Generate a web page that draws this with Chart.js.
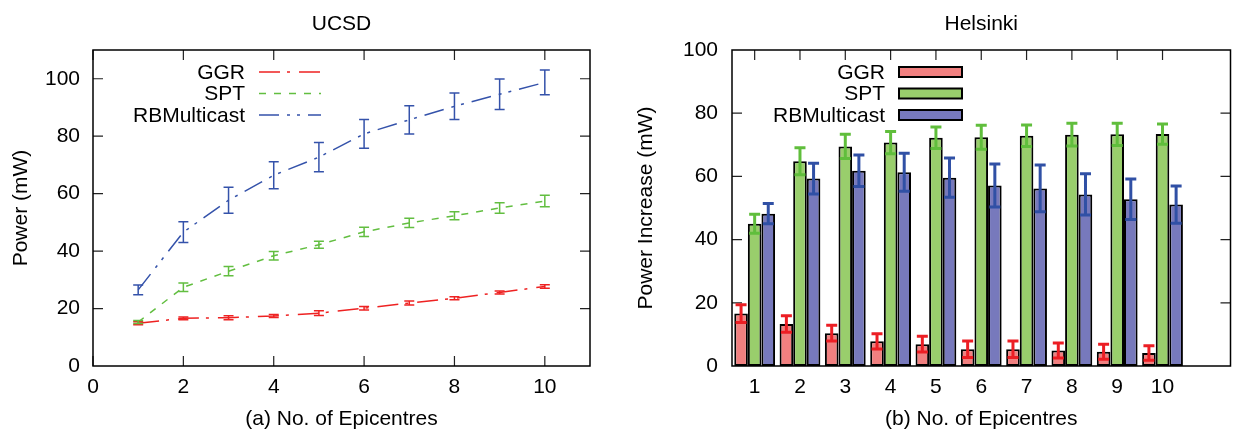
<!DOCTYPE html>
<html>
<head>
<meta charset="utf-8">
<script src="https://cdn.jsdelivr.net/npm/chart.js@4.4.1/dist/chart.umd.min.js"></script>
<style>
html, body { margin: 0; padding: 0; background: #fff; }
#wrap { position: relative; width: 1234px; height: 435px; }
.box { position: absolute; top: 0; width: 617px; height: 435px; }
</style>
</head>
<body>
<div id="wrap">
  <div class="box" style="left:0"><canvas id="ucsd"></canvas></div>
  <div class="box" style="left:617px"><canvas id="helsinki"></canvas></div>
</div>
<script>
// data
const epicentres = [1, 2, 3, 4, 5, 6, 7, 8, 9, 10];
const seriesNames = ['GGR', 'SPT', 'RBMulticast'];

// (a) UCSD, power in mW
const ucsdGGR = [14.9, 16.6, 16.8, 17.4, 18.4, 20.1, 21.9, 23.6, 25.6, 27.7];
const ucsdGGRErr = [0.5, 0.5, 0.7, 0.5, 0.8, 0.6, 0.7, 0.5, 0.5, 0.6];
const ucsdSPT = [15.3, 27.4, 33.0, 38.4, 42.2, 46.7, 49.8, 52.3, 55.0, 57.4];
const ucsdSPTErr = [0.5, 1.5, 1.6, 1.5, 1.2, 1.6, 1.6, 1.4, 1.8, 2.0];
const ucsdRB = [26.5, 46.6, 57.7, 66.4, 72.7, 80.8, 85.7, 90.4, 94.6, 98.7];
const ucsdRBErr = [1.7, 3.6, 4.5, 4.7, 5.1, 5.0, 4.9, 4.6, 5.3, 4.3];

// (b) Helsinki, power increase in mW
const helGGR = [16.6, 13.3, 10.4, 7.8, 6.9, 5.3, 5.3, 4.9, 4.5, 4.1];
const helGGRErr = [2.8, 2.6, 2.5, 2.4, 2.5, 2.6, 2.6, 2.4, 2.4, 2.3];
const helSPT = [45.0, 64.8, 69.5, 70.7, 72.2, 72.4, 72.9, 73.2, 73.3, 73.4];
const helSPTErr = [3.0, 4.3, 3.8, 3.5, 3.4, 3.8, 3.4, 3.6, 3.5, 3.2];
const helRB = [48.2, 59.3, 61.8, 61.3, 59.6, 57.1, 56.2, 54.3, 52.8, 51.1];
const helRBErr = [3.2, 4.9, 5.0, 6.0, 6.2, 6.8, 7.4, 6.5, 6.4, 5.9];

const ucsdXTicks = [0, 2, 4, 6, 8, 10];
const yTicksLeft = [20, 40, 60, 80, 100];
const yTicksRight = [20, 40, 60, 80];

const FONT = "'Liberation Sans', Arial, sans-serif";
Chart.defaults.font.family = FONT;
Chart.defaults.font.size = 21;
Chart.defaults.color = '#000';

const lineRed = 'rgb(238,34,34)';
const lineGreen = 'rgb(98,190,64)';
const lineBlue = 'rgb(52,82,170)';

function makeFrame(cfg) {
  return {
    id: 'frame',
    beforeDatasetsDraw(chart) {
      const ctx = chart.ctx, a = chart.chartArea;
      const xs = chart.scales.x, ys = chart.scales.y;
      ctx.save();
      ctx.strokeStyle = '#222';
      ctx.lineWidth = 1.2;
      ctx.beginPath();
      cfg.xTicks.forEach(v => {
        const x = xs.getPixelForValue(v);
        ctx.moveTo(x, a.bottom); ctx.lineTo(x, a.bottom - 10);
        ctx.moveTo(x, a.top); ctx.lineTo(x, a.top + 10);
      });
      cfg.yTicks.forEach(v => {
        const y = ys.getPixelForValue(v);
        ctx.moveTo(a.left, y); ctx.lineTo(a.left + 10, y);
        ctx.moveTo(a.right, y); ctx.lineTo(a.right - 10, y);
      });
      ctx.stroke();
      ctx.restore();
    },
    afterDatasetsDraw(chart) {
      const ctx = chart.ctx, a = chart.chartArea;
      const ys = chart.scales.y;
      ctx.save();
      // error bars
      cfg.errors.forEach((errs, i) => {
        const ds = chart.data.datasets[i];
        const meta = chart.getDatasetMeta(i);
        ctx.strokeStyle = cfg.errColors[i];
        ctx.lineWidth = cfg.errWidth;
        ctx.setLineDash([]);
        ctx.beginPath();
        meta.data.forEach((el, j) => {
          const v = typeof ds.data[j] === 'object' ? ds.data[j].y : ds.data[j];
          const x = el.x;
          const yt = ys.getPixelForValue(v + errs[j]);
          const yb = ys.getPixelForValue(v - errs[j]);
          ctx.moveTo(x, yt); ctx.lineTo(x, yb);
          ctx.moveTo(x - cfg.cap, yt); ctx.lineTo(x + cfg.cap, yt);
          ctx.moveTo(x - cfg.cap, yb); ctx.lineTo(x + cfg.cap, yb);
        });
        ctx.stroke();
      });
      // border
      ctx.strokeStyle = '#000';
      ctx.lineWidth = 1.5;
      ctx.strokeRect(a.left, a.top, a.right - a.left, a.bottom - a.top);
      // title
      ctx.fillStyle = '#000';
      ctx.font = '21px ' + FONT;
      ctx.textAlign = 'center';
      ctx.textBaseline = 'middle';
      ctx.fillText(cfg.title, (a.left + a.right) / 2, 24);
      // legend
      ctx.textAlign = 'right';
      chart.data.datasets.forEach((ds, i) => {
        const y = 72 + i * 21.5;
        ctx.fillStyle = '#000';
        ctx.fillText(ds.label, cfg.legText, y + 1);
        if (cfg.legType === 'line') {
          ctx.strokeStyle = ds.borderColor;
          ctx.lineWidth = 1.6;
          ctx.setLineDash(ds.borderDash);
          ctx.beginPath();
          ctx.moveTo(cfg.legFrom, y); ctx.lineTo(cfg.legTo, y);
          ctx.stroke();
          ctx.setLineDash([]);
        } else {
          ctx.fillStyle = ds.backgroundColor;
          ctx.fillRect(cfg.legFrom, y - 5, cfg.legTo - cfg.legFrom, 10);
          ctx.strokeStyle = '#000';
          ctx.lineWidth = 2;
          ctx.strokeRect(cfg.legFrom, y - 5, cfg.legTo - cfg.legFrom, 10);
        }
      });
      ctx.restore();
    }
  };
}

function pts(vals) {
  return epicentres.map((x, i) => ({ x: x, y: vals[i] }));
}

new Chart(document.getElementById('ucsd'), {
  type: 'line',
  data: {
    datasets: [
      { label: seriesNames[0], data: pts(ucsdGGR), borderColor: lineRed, borderDash: [21, 7, 3, 9] },
      { label: seriesNames[1], data: pts(ucsdSPT), borderColor: lineGreen, borderDash: [7, 8] },
      { label: seriesNames[2], data: pts(ucsdRB), borderColor: lineBlue, borderDash: [20, 8, 3, 7, 3, 8] }
    ]
  },
  options: {
    responsive: true,
    maintainAspectRatio: false,
    animation: false,
    layout: { padding: { top: 50, right: 27, left: 0, bottom: 0 } },
    elements: { point: { radius: 0 }, line: { borderWidth: 1.5, tension: 0 } },
    plugins: { legend: { display: false }, tooltip: { enabled: false } },
    scales: {
      x: {
        type: 'linear', min: 0, max: 11,
        grid: { display: false, drawTicks: false },
        border: { display: false },
        ticks: { stepSize: 2, includeBounds: false, padding: 9 },
        title: { display: true, text: '(a) No. of Epicentres', padding: { top: 0, bottom: 3 } },
        afterFit: s => { s.height = 69; }
      },
      y: {
        min: 0, max: 110,
        grid: { display: false, drawTicks: false },
        border: { display: false },
        ticks: { stepSize: 20, includeBounds: false, padding: 13 },
        title: { display: true, text: 'Power (mW)', padding: { top: 9, bottom: 0 } },
        afterFit: s => { s.width = 93; }
      }
    }
  },
  plugins: [makeFrame({
    title: 'UCSD', xTicks: ucsdXTicks, yTicks: yTicksLeft,
    errors: [ucsdGGRErr, ucsdSPTErr, ucsdRBErr],
    errColors: [lineRed, lineGreen, lineBlue], errWidth: 1.5, cap: 5,
    legType: 'line', legText: 245, legFrom: 259, legTo: 321
  })]
});

new Chart(document.getElementById('helsinki'), {
  type: 'bar',
  data: {
    labels: epicentres.map(String).concat(['']),
    datasets: [
      { label: seriesNames[0], data: helGGR, backgroundColor: 'rgb(241,128,128)' },
      { label: seriesNames[1], data: helSPT, backgroundColor: 'rgb(153,206,108)' },
      { label: seriesNames[2], data: helRB, backgroundColor: 'rgb(119,121,188)' }
    ]
  },
  options: {
    responsive: true,
    maintainAspectRatio: false,
    animation: false,
    layout: { padding: { top: 50, right: 3.5, left: 0, bottom: 0 } },
    datasets: { bar: { categoryPercentage: 0.9, barPercentage: 1.0, borderColor: '#000', borderWidth: 2, borderSkipped: false } },
    plugins: { legend: { display: false }, tooltip: { enabled: false } },
    scales: {
      x: {
        grid: { display: false, drawTicks: false },
        border: { display: false },
        ticks: { padding: 9, autoSkip: false, maxRotation: 0 },
        title: { display: true, text: '(b) No. of Epicentres', padding: { top: 0, bottom: 3 } },
        afterFit: s => { s.height = 69; }
      },
      y: {
        min: 0, max: 100,
        grid: { display: false, drawTicks: false },
        border: { display: false },
        ticks: { stepSize: 20, padding: 14 },
        title: { display: true, text: 'Power Increase (mW)', padding: { top: 17, bottom: 0 } },
        afterFit: s => { s.width = 115; }
      }
    }
  },
  plugins: [makeFrame({
    title: 'Helsinki', xTicks: [0, 1, 2, 3, 4, 5, 6, 7, 8, 9], yTicks: yTicksRight,
    errors: [helGGRErr, helSPTErr, helRBErr],
    errColors: ['rgb(236,30,36)', 'rgb(96,190,60)', 'rgb(48,80,165)'], errWidth: 3, cap: 5.5,
    legType: 'box', legText: 268, legFrom: 282, legTo: 345
  })]
});
</script>
</body>
</html>
